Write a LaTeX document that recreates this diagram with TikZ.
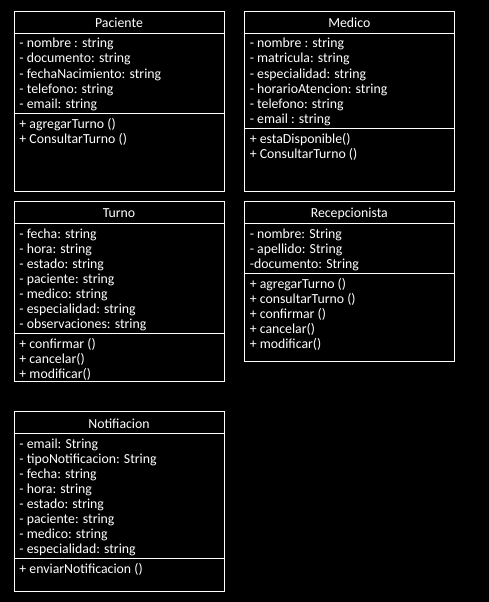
\documentclass[tikz,border=0pt]{standalone}
\usepackage{fontspec}
\setmainfont{Carlito}
\usepackage{tikz}

\begin{document}
\begin{tikzpicture}[x=1pt,y=-1pt,line width=1pt,draw=white,text=white,
   font=\fontsize{13.8}{15}\selectfont,
   cls/.style n args={1}{draw=white,rectangle,anchor=north west,inner sep=0pt,minimum width=210pt,minimum height=#1},
   ttl/.style={anchor=base,inner sep=0pt},
   row/.style={anchor=base west,inner sep=0pt}]
\fill[black] (0,0) rectangle (489,602);
\useasboundingbox (0,0) rectangle (489,602);
% Paciente
\node[cls=180pt] (pac) at (14,11) {};
\node[ttl] (pac-t) at (119,28) {Paciente};
\draw (pac.west |- 0,33.3) -- (pac.east |- 0,33.3);
\foreach \y/\t [count=\i] in %
{48/{- nombre : string},63/{- documento: string},78/{- fechaNacimiento: string},93/{- telefono: string},108/{- email: string}} {
   \node[row] (pac-a\i) at (19,\y) {\t};
}
\draw (pac.west |- 0,113.3) -- (pac.east |- 0,113.3);
\foreach \y/\t [count=\i] in %
{128/{+ agregarTurno ()},143/{+ ConsultarTurno ()}} {
   \node[row] (pac-m\i) at (19,\y) {\t};
}
% Medico
\node[cls=180pt] (med) at (244.3,11) {};
\node[ttl] (med-t) at (349.3,28) {Medico};
\draw (med.west |- 0,33.3) -- (med.east |- 0,33.3);
\foreach \y/\t [count=\i] in %
{48/{- nombre : string},63/{- matricula: string},78/{- especialidad: string},93/{- horarioAtencion: string},108/{- telefono: string},123/{- email : string}} {
   \node[row] (med-a\i) at (249.3,\y) {\t};
}
\draw (med.west |- 0,128.3) -- (med.east |- 0,128.3);
\foreach \y/\t [count=\i] in %
{143/{+ estaDisponible()},158/{+ ConsultarTurno ()}} {
   \node[row] (med-m\i) at (249.3,\y) {\t};
}
% Turno
\node[cls=179.7pt] (tur) at (14,201) {};
\node[ttl] (tur-t) at (119,217.7) {Turno};
\draw (tur.west |- 0,223.3) -- (tur.east |- 0,223.3);
\foreach \y/\t [count=\i] in %
{238/{- fecha: string},253/{- hora: string},268/{- estado: string},283/{- paciente: string},298/{- medico: string},313/{- especialidad: string},328/{- observaciones: string}} {
   \node[row] (tur-a\i) at (19,\y) {\t};
}
\draw (tur.west |- 0,333.3) -- (tur.east |- 0,333.3);
\foreach \y/\t [count=\i] in %
{348/{+ confirmar ()},363/{+ cancelar()},378/{+ modificar()}} {
   \node[row] (tur-m\i) at (19,\y) {\t};
}
% Recepcionista
\node[cls=160pt] (rec) at (244.3,201) {};
\node[ttl] (rec-t) at (349.3,217.7) {Recepcionista};
\draw (rec.west |- 0,223.3) -- (rec.east |- 0,223.3);
\foreach \y/\t [count=\i] in %
{238/{- nombre: String},253/{- apellido: String},268/{-documento: String}} {
   \node[row] (rec-a\i) at (249.3,\y) {\t};
}
\draw (rec.west |- 0,273.3) -- (rec.east |- 0,273.3);
\foreach \y/\t [count=\i] in %
{288/{+ agregarTurno ()},303/{+ consultarTurno ()},318/{+ confirmar ()},333/{+ cancelar()},348/{+ modificar()}} {
   \node[row] (rec-m\i) at (249.3,\y) {\t};
}
% Notificacion
\node[cls=180pt] (not) at (14,411) {};
\node[ttl] (not-t) at (119,428.3) {Notifiacion};
\draw (not.west |- 0,433.3) -- (not.east |- 0,433.3);
\foreach \y/\t [count=\i] in %
{448/{- email: String},463/{- tipoNotificacion: String},478/{- fecha: string},493/{- hora: string},508/{- estado: string},523/{- paciente: string},538/{- medico: string},553/{- especialidad: string}} {
   \node[row] (not-a\i) at (19,\y) {\t};
}
\draw (not.west |- 0,558.3) -- (not.east |- 0,558.3);
\node[row] (not-m1) at (19,573) {+ enviarNotificacion ()};
\end{tikzpicture}
\end{document}
